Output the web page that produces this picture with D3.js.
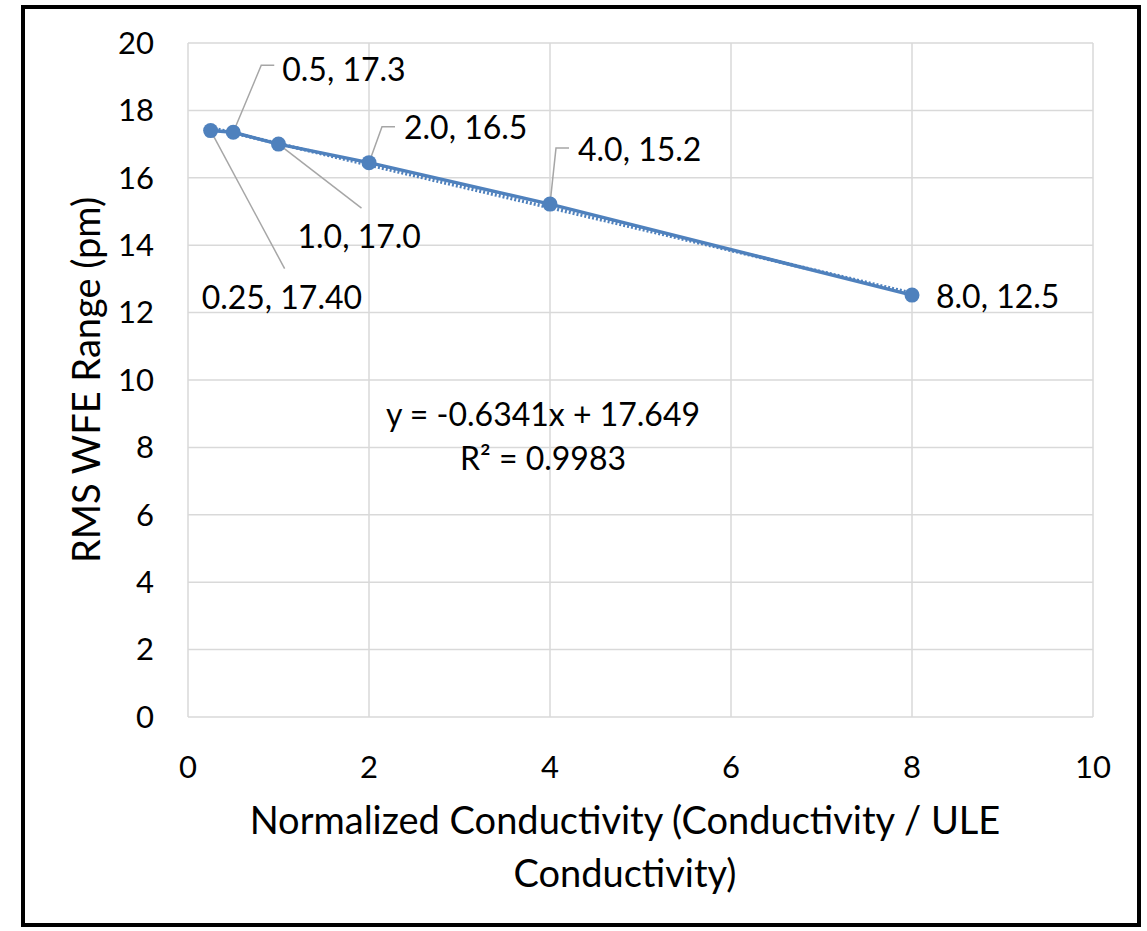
<!DOCTYPE html>
<html><head><meta charset="utf-8">
<script src="https://cdn.jsdelivr.net/npm/d3@7"></script>
<style>body{margin:0;background:#fff}svg{display:block}text{font-family:Lato,"Open Sans",sans-serif;fill:#000}</style>
</head><body>
<script>
const xValues = [0.25, 0.5, 1, 2, 4, 8];
const yValues = [17.4, 17.35, 17.0, 16.45, 15.22, 12.52];
const pointLabels = ["0.25, 17.40", "0.5, 17.3", "1.0, 17.0", "2.0, 16.5", "4.0, 15.2", "8.0, 12.5"];
const xTicks = [0, 2, 4, 6, 8, 10];
const yTicks = [0, 2, 4, 6, 8, 10, 12, 14, 16, 18, 20];
const trendSlope = -0.6341, trendIntercept = 17.649;
const trendText = ["y = -0.6341x + 17.649", "R² = 0.9983"];
const xTitle = ["Normalized Conductivity (Conductivity / ULE", "Conductivity)"];
const yTitle = "RMS WFE Range (pm)";

const W = 1147, H = 931;
const svg = d3.select("body").append("svg").attr("width", W).attr("height", H);
svg.append("rect").attr("x", 23).attr("y", 7).attr("width", 1116).attr("height", 918)
  .attr("fill", "#fff").attr("stroke", "#000").attr("stroke-width", 4);

const x = d3.scaleLinear().domain([0, 10]).range([188, 1093]);
const y = d3.scaleLinear().domain([0, 20]).range([717, 43]);

const grid = svg.append("g");
grid.selectAll("line.h").data(yTicks).join("line").attr("class","h")
  .attr("x1", x(0)).attr("x2", x(10)).attr("y1", d => y(d)).attr("y2", d => y(d))
  .attr("stroke", "#d9d9d9").attr("stroke-width", 1.5);
grid.selectAll("line.v").data(xTicks).join("line").attr("class","v")
  .attr("y1", y(0)).attr("y2", y(20)).attr("x1", d => x(d)).attr("x2", d => x(d))
  .attr("stroke", "#d9d9d9").attr("stroke-width", 1.5);

svg.selectAll("text.yt").data(yTicks).join("text").attr("class","yt")
  .attr("x", 154).attr("y", d => y(d)).attr("dy", "0.35em").attr("text-anchor", "end")
  .attr("font-size", 31).text(d => d);
svg.selectAll("text.xt").data(xTicks).join("text").attr("class","xt")
  .attr("x", d => x(d)).attr("y", 767).attr("dy", "0.35em").attr("text-anchor", "middle")
  .attr("font-size", 31).text(d => d);

// trendline (dotted)
const tx = [xValues[0], xValues[xValues.length-1]];
svg.append("line").attr("x1", x(tx[0])).attr("x2", x(tx[1]))
  .attr("y1", y(trendSlope*tx[0]+trendIntercept)).attr("y2", y(trendSlope*tx[1]+trendIntercept))
  .attr("stroke", "#4f81bd").attr("stroke-width", 3.5).attr("stroke-dasharray", "2,2");

const pts = xValues.map((v,i)=>[v, yValues[i]]);
svg.append("path").datum(pts)
  .attr("d", d3.line().x(d=>x(d[0])).y(d=>y(d[1])))
  .attr("fill","none").attr("stroke","#4f81bd").attr("stroke-width",3.5);

// leader lines (pixel offsets relative to point)
const leaders = [
  [[0,0],[74,138]],
  [[0,0],[28,-67],[41,-67]],
  [[0,0],[83,64]],
  [[0,0],[13,-36],[26,-36]],
  [[0,0],[6,-56],[19,-56]],
  null
];
const labelOffsets = [[-9,167],[49,-63],[19,93],[35,-35],[28,-54],[24,2]];
pts.forEach((p,i)=>{
  const px = x(p[0]), py = y(p[1]);
  if (leaders[i]) {
    svg.append("path").attr("d", d3.line()(leaders[i].map(o=>[px+o[0], py+o[1]])))
      .attr("fill","none").attr("stroke","#a6a6a6").attr("stroke-width",1.5);
  }
});
svg.selectAll("circle.pt").data(pts).join("circle").attr("class","pt")
  .attr("cx", d=>x(d[0])).attr("cy", d=>y(d[1])).attr("r", 7.5).attr("fill", "#4f81bd");

svg.selectAll("text.lbl").data(pts).join("text").attr("class","lbl")
  .attr("x", (d,i)=>x(d[0])+labelOffsets[i][0]).attr("y", (d,i)=>y(d[1])+labelOffsets[i][1])
  .attr("dy","0.35em").attr("font-size", 32).text((d,i)=>pointLabels[i]);

svg.selectAll("text.eq").data(trendText).join("text").attr("class","eq")
  .attr("x", 543).attr("y", (d,i)=>415+i*44).attr("dy","0.35em").attr("text-anchor","middle")
  .attr("font-size", 32).text(d=>d);

svg.selectAll("text.xtitle").data(xTitle).join("text").attr("class","xtitle")
  .attr("x", 625).attr("y", (d,i)=>821+i*53).attr("dy","0.35em").attr("text-anchor","middle")
  .attr("font-size", 38).text(d=>d);
svg.append("text").attr("transform","translate(87,380) rotate(-90)").attr("dy","0.35em")
  .attr("text-anchor","middle").attr("font-size",38).text(yTitle);
</script>
</body></html>
